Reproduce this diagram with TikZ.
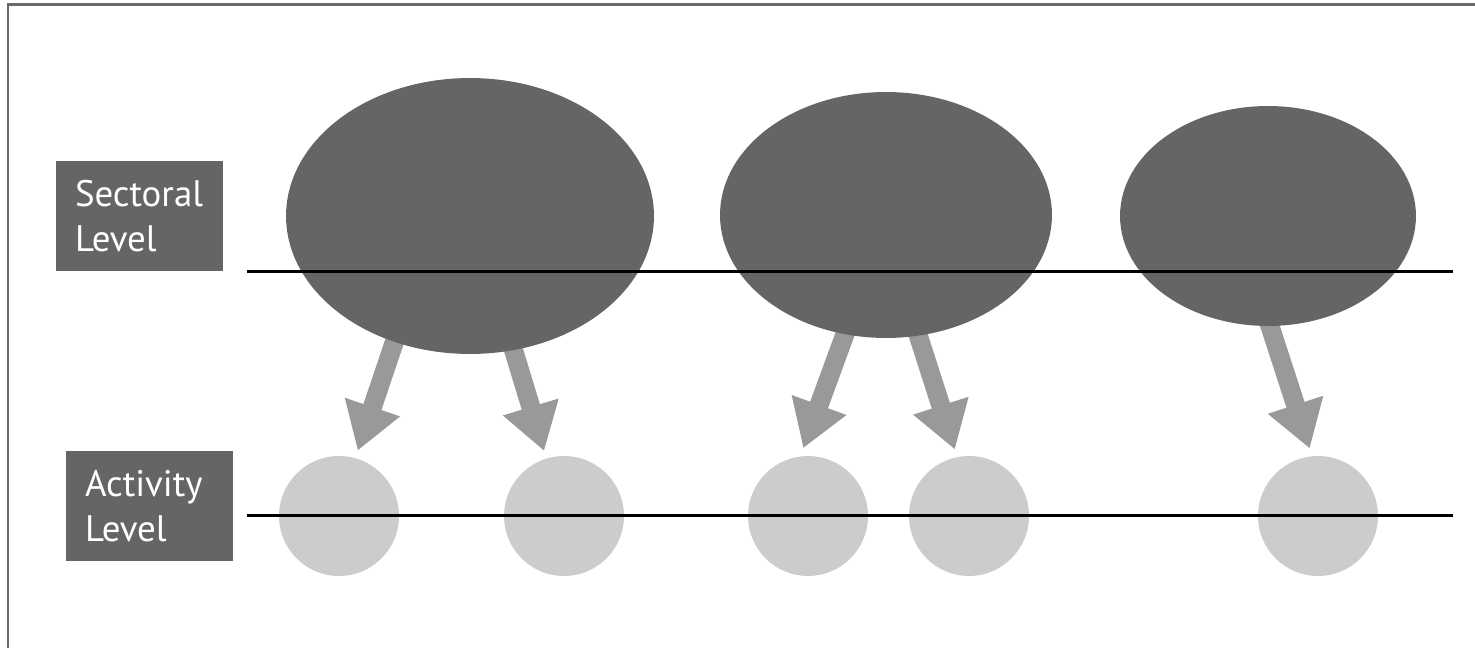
\documentclass[tikz,border=0pt]{standalone}
\usepackage{fontspec}
\setmainfont{PT Sans}
\usetikzlibrary{shapes.geometric,arrows.meta,backgrounds}
\definecolor{sectorgrey}{HTML}{656565}
\definecolor{arrowgrey}{HTML}{999999}
\definecolor{activitygrey}{HTML}{CCCCCC}
\definecolor{framegrey}{HTML}{6A6A6A}
\begin{document}
\begin{tikzpicture}
  [x=0.02cm,y=-0.02cm,
   level/.style={rectangle,fill=sectorgrey,text=white,align=left,
                 outer sep=0,inner xsep=0.38cm,minimum width=3.34cm,
                 minimum height=2.2cm,text width=2.58cm,
                 font=\fontsize{21}{25.6}\selectfont},
   sector/.style={ellipse,fill=sectorgrey,outer sep=0,inner sep=0},
   activity/.style={circle,fill=activitygrey,minimum size=2.4cm,
                    inner sep=0,outer sep=0.16cm},
   split/.style={line width=0.38cm,draw=arrowgrey,
                 -{Triangle[length=0.92cm,width=1.1cm]},shorten <=-0.3cm},
   levelline/.style={line width=0.06cm,draw=black}]
  \useasboundingbox (0,0) rectangle (1475,648);
  \draw[framegrey,line width=0.06cm] (8,5) rectangle (1500,680);
  \node[level] (sectoral) at (139.5,216) {Sectoral\\Level};
  \node[level] (activitylevel) at (149.5,506) {Activity\\Level};
  \node[sector,minimum width=7.36cm,minimum height=5.52cm] (sec1) at (470,216) {};
  \node[sector,minimum width=6.64cm,minimum height=4.92cm] (sec2) at (886,215) {};
  \node[sector,minimum width=5.92cm,minimum height=4.4cm] (sec3) at (1268,216) {};
  \node[activity] (act1) at (339,516) {};
  \node[activity] (act2) at (564,516) {};
  \node[activity] (act3) at (808,516) {};
  \node[activity] (act4) at (969,516) {};
  \node[activity] (act5) at (1318,516) {};
  \begin{scope}[on background layer]
    \draw[split] (sec1.-121) -- (act1.74);
    \draw[split] (sec1.-72) -- (act2.107);
    \draw[split] (sec2.-109) -- (act3.94);
    \draw[split] (sec2.-75) -- (act4.102);
    \draw[split] (sec3.-89) -- (act5.97);
  \end{scope}
  \coordinate (secstart) at (247,272);
  \coordinate (secend) at (1453,272);
  \coordinate (actstart) at (247,516);
  \coordinate (actend) at (1453,516);
  \draw[levelline] (secstart) -- (secend);
  \draw[levelline] (actstart) -- (actend);
\end{tikzpicture}
\end{document}
